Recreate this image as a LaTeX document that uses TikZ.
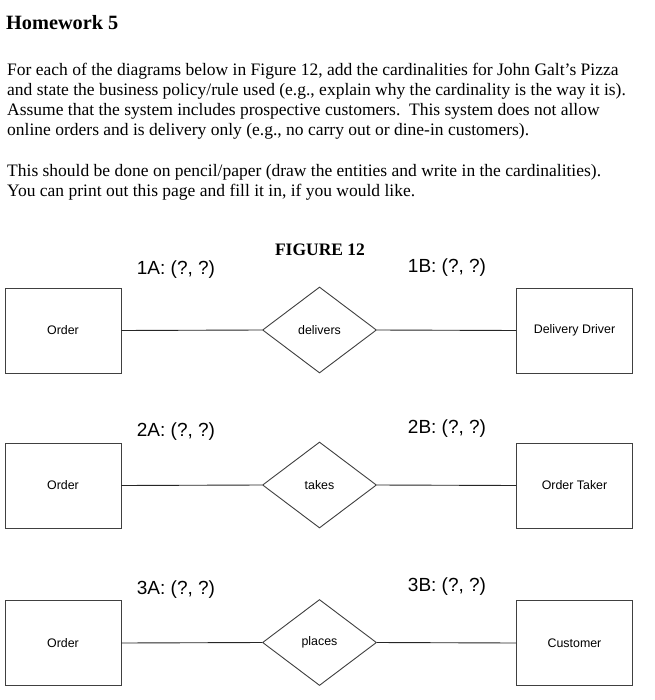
\documentclass[tikz,border=0pt]{standalone}
\usepackage{fontspec}
\setmainfont{Liberation Serif}
\newfontfamily\arialf{Liberation Sans}
\usetikzlibrary{shapes.geometric}
\tikzset{
  para/.style={anchor=base west, inner sep=0pt, font=\fontsize{17.5}{20}\selectfont},
  entity/.style={draw=black!75, line width=0.9pt, minimum width=116pt, minimum height=85pt, inner sep=0pt, font=\arialf\fontsize{12.4}{14}\selectfont},
  rel/.style={draw=black!75, line width=0.9pt, diamond, minimum width=114pt, minimum height=86pt, inner sep=0pt, font=\arialf\fontsize{12.4}{14}\selectfont},
  card/.style={inner sep=0pt, font=\arialf\fontsize{19}{21}\selectfont},
  conn/.style={draw=black!85, line width=0.9pt}
}
\begin{document}
\begin{tikzpicture}[x=1pt,y=-1pt]
\useasboundingbox[fill=white] (0,0) rectangle (654,700);
\node[anchor=base west, inner sep=0pt, font=\bfseries\fontsize{20.3}{23}\selectfont] (title) at (6,30) {Homework 5};
\node[para] (l1) at (7,76) {For each of the diagrams below in Figure 12, add the cardinalities for John Galt’s Pizza};
\node[para] (l2) at (7,96) {and state the business policy/rule used (e.g., explain why the cardinality is the way it is).};
\node[para] (l3) at (7,116) {Assume that the system includes prospective customers.\ \ This system does not allow};
\node[para] (l4) at (7,136) {online orders and is delivery only (e.g., no carry out or dine-in customers).};
\node[para] (l5) at (7,177) {This should be done on pencil/paper (draw the entities and write in the cardinalities).};
\node[para] (l6) at (7,197) {You can print out this page and fill it in, if you would like.};
\node[inner sep=0pt, font=\bfseries\fontsize{17.5}{19}\selectfont] (fig) at (320,250) {FIGURE 12};

% diagram 1
\node[entity] (o1) at (63,330.5) {Order};
\node[rel] (d1) at (319.5,330) {delivers};
\node[entity] (e1) at (574.5,330.5) {Delivery Driver};
\draw[conn] (o1.east) -- (d1.west);
\draw[conn] (d1.east) -- (e1.west);
\node[card] (c1a) at (176,270) {1A: (?, ?)};
\node[card] (c1b) at (447,268) {1B: (?, ?)};

% diagram 2
\node[entity] (o2) at (63,485.5) {Order};
\node[rel] (d2) at (319.5,485) {takes};
\node[entity] (e2) at (574.5,485.5) {Order Taker};
\draw[conn] (o2.east) -- (d2.west);
\draw[conn] (d2.east) -- (e2.west);
\node[card] (c2a) at (176,432) {2A: (?, ?)};
\node[card] (c2b) at (447,429) {2B: (?, ?)};

% diagram 3
\node[entity] (o3) at (63,643) {Order};
\node[rel] (d3) at (319.5,642.5) {places};
\node[entity] (e3) at (574.5,643) {Customer};
\draw[conn] (o3.east) -- (d3.west);
\draw[conn] (d3.east) -- (e3.west);
\node[card] (c3a) at (176,590) {3A: (?, ?)};
\node[card] (c3b) at (447,587) {3B: (?, ?)};
\end{tikzpicture}
\end{document}
